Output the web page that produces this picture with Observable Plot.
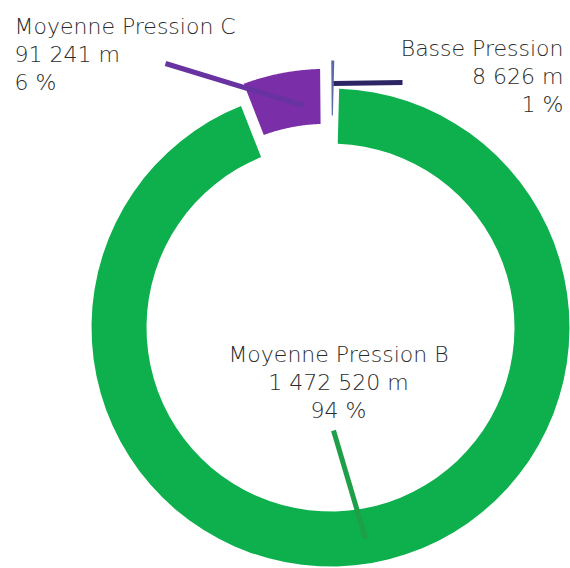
<!DOCTYPE html>
<html><head><meta charset="utf-8">
<script src="https://cdn.jsdelivr.net/npm/d3@7"></script>
<script src="https://cdn.jsdelivr.net/npm/@observablehq/plot@0.6"></script>
<style>body{margin:0;background:#fff;} #chart svg{display:block;}</style>
</head><body><div id="chart"></div>
<script>
// ---- data ----
const categories = ["Basse Pression", "Moyenne Pression B", "Moyenne Pression C"];
const lengths = [8626, 1472520, 91241];
const lengthLabels = ["8 626 m", "1 472 520 m", "91 241 m"];
const percentLabels = ["1 %", "94 %", "6 %"];

// ---- style / layout ----
const sliceColors = ["#5a69a8", "#0db04c", "#7a2ea8"];
const leaderColors = ["#2c2564", "#1f9f47", "#6833a0"];
const W = 570, H = 568;
const cx = 330, cy = 327, R = 239, r0 = 184;
const startDeg = -0.5;
const padHalf = [2.6, 2.5, 4.5];   // px half padding per slice
const explode = [28, 0, 20];       // px outward offset per slice
const labelPos = [
  {x: 563, y: 35, anchor: "end"},
  {x: 338, y: 341, anchor: "middle"},
  {x: 14, y: 13, anchor: "start"}
];
const leaders = [
  {x1: 333, y1: 83, x2: 402, y2: 82},
  {x1: 333, y1: 430, x2: 365, y2: 538},
  {x1: 165, y1: 63, x2: 303, y2: 105}
];
const font = {fontSize: 22, fontWeight: 200, fontFamily: "DejaVu Sans", fill: "#2b2b2b", lineAnchor: "top", lineHeight: 1.28};

// ---- slice geometry from data ----
const total = d3.sum(lengths);
const rad = d => d * Math.PI / 180;
const polys = [];
let a = startDeg;
categories.forEach((cat, i) => {
  const span = 360 * lengths[i] / total;
  const a0 = a, a1 = a + span;
  a = a1;
  const mid = rad((a0 + a1) / 2);
  const ox = explode[i] * Math.sin(mid), oy = -explode[i] * Math.cos(mid);
  const ring = (rr, rev) => {
    const da = Math.asin(padHalf[i] / rr) * 180 / Math.PI;
    const s = a0 + da, e = a1 - da;
    const n = 80, pts = [];
    for (let t = 0; t <= n; t++) {
      const ang = rad(s + (e - s) * t / n);
      pts.push({cat, color: sliceColors[i], x: cx + ox + rr * Math.sin(ang), y: cy + oy - rr * Math.cos(ang)});
    }
    return rev ? pts.reverse() : pts;
  };
  polys.push(...ring(R, false), ...ring(r0, true));
});

const labels = categories.map((c, i) => ({
  text: c + "\n" + lengthLabels[i] + "\n" + percentLabels[i],
  ...labelPos[i]
}));
const leaderData = leaders.map((l, i) => ({...l, color: leaderColors[i]}));

const chart = Plot.plot({
  width: W, height: H, margin: 0,
  x: {domain: [0, W], range: [0, W], axis: null},
  y: {domain: [0, H], range: [0, H], axis: null},
  color: {type: "identity"},
  marks: [
    Plot.line(polys, {x: "x", y: "y", z: "cat", fill: "color", stroke: "none", curve: "linear"}),
    Plot.link(leaderData, {x1: "x1", y1: "y1", x2: "x2", y2: "y2", stroke: "color", strokeWidth: 5}),
    Plot.text(labels.filter(d => d.anchor === "end"), {x: "x", y: "y", text: "text", textAnchor: "end", ...font}),
    Plot.text(labels.filter(d => d.anchor === "middle"), {x: "x", y: "y", text: "text", textAnchor: "middle", ...font}),
    Plot.text(labels.filter(d => d.anchor === "start"), {x: "x", y: "y", text: "text", textAnchor: "start", ...font})
  ]
});
document.getElementById("chart").appendChild(chart);
</script>
</body></html>
